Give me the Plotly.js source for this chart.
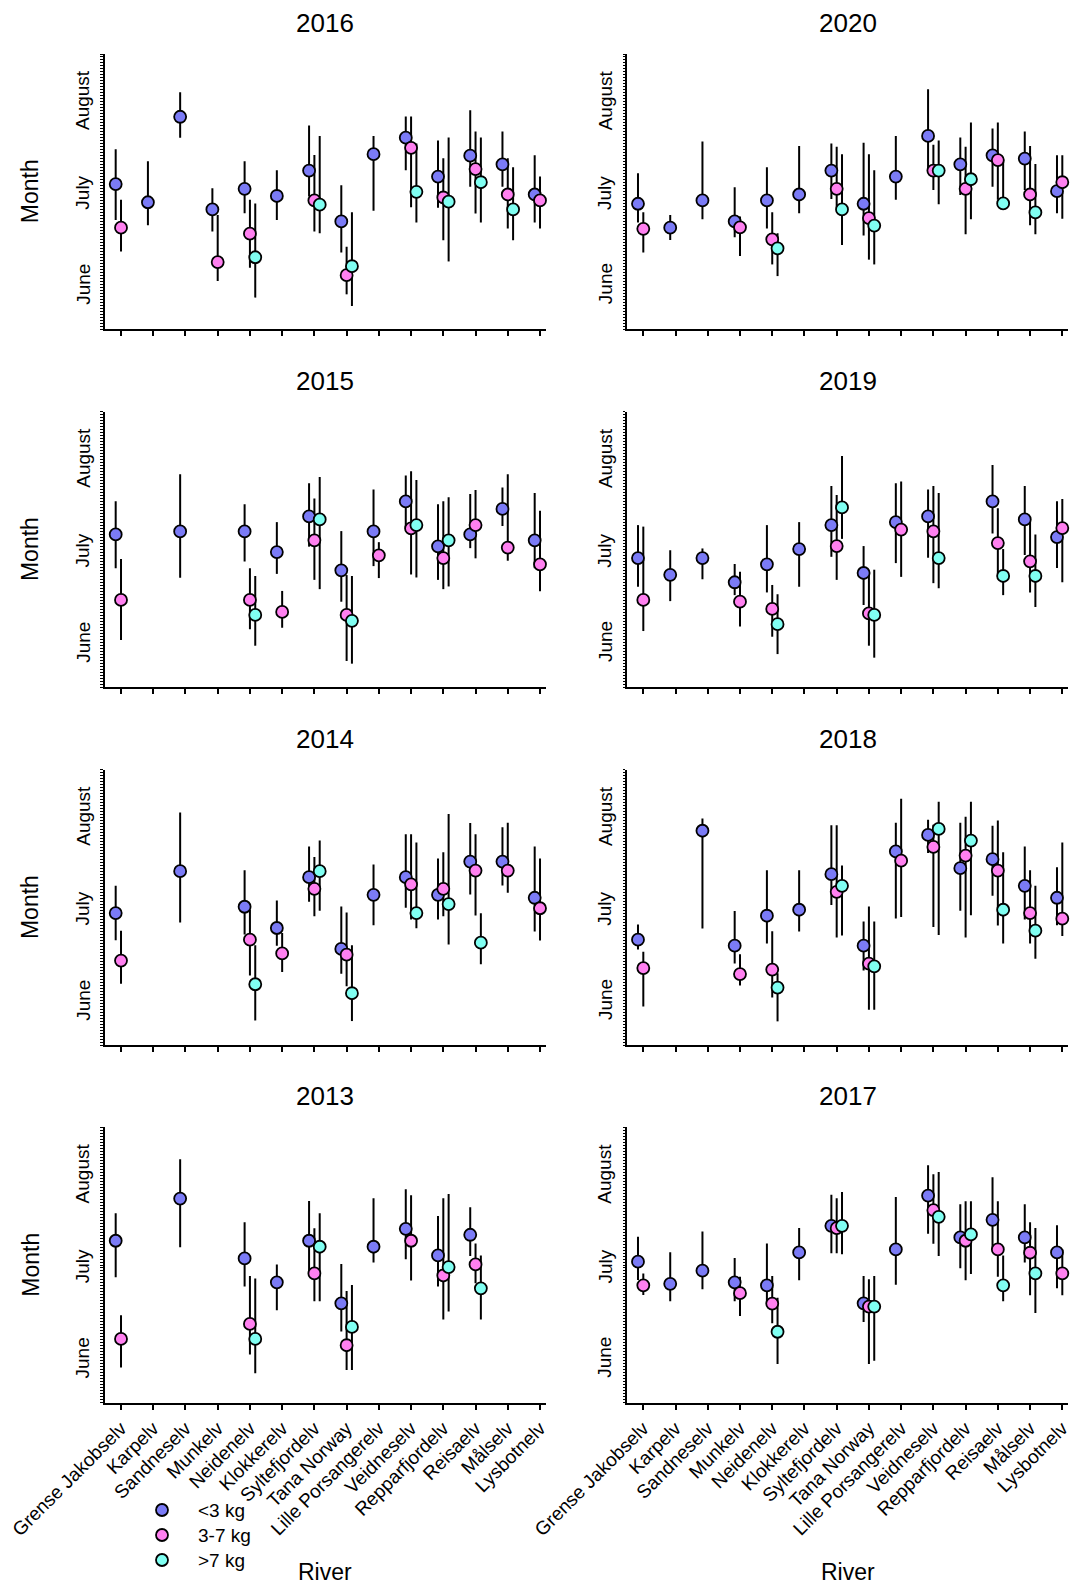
<!DOCTYPE html>
<html><head><meta charset="utf-8">
<script src="https://cdn.plot.ly/plotly-3.0.1.min.js"></script>
<style>html,body{margin:0;padding:0;background:#fff}#chart{width:1073px;height:1584px}</style>
</head><body><div id="chart"></div>
<script>
const N = null;
const rivers = ['Grense Jakobselv','Karpelv','Sandneselv','Munkelv','Neidenelv','Klokkerelv','Syltefjordelv','Tana Norway','Lille Porsangerelv','Veidneselv','Repparfjordelv','Reisaelv','Målselv','Lysbotnelv'];
const groupNames = ['&lt;3 kg','3-7 kg','&gt;7 kg'];
const groupColors = ['#7b7bf6','#ff80f0','#80fff2'];
const monthNames = ['June','July','August'];
const monthMid = [15, 45.5, 76.5];          // days since 1 June
const monthBounds = [0, 30, 61, 92];        // 1 Jun, 1 Jul, 1 Aug, 1 Sep

// values: days since 1 June (mean, lower, upper) per river
// 2016
const mean2016_lt3 = [48.5,42.4,71.0,40.0,46.9,44.5,53.0,36.0,58.5,64.0,51.0,58.0,55.1,45.0];
const lo2016_lt3   = [36.5,34.7,64.0,32.6,38.7,36.5,44.3,25.6,39.6,53.1,40.6,47.6,47.6,35.6];
const hi2016_lt3   = [60.1,56.1,79.2,47.1,56.1,53.1,68.1,48.1,64.6,71.1,63.1,73.2,66.1,58.1];
const mean2016_3to7 = [33.9,N,N,22.4,31.9,N,43.0,18.0,N,60.6,44.0,53.5,45.0,43.0];
const lo2016_3to7   = [25.9,N,N,16.1,20.5,N,32.6,11.6,N,40.7,29.7,38.6,33.6,33.6];
const hi2016_3to7   = [43.2,N,N,38.1,43.2,N,58.2,27.5,N,71.1,57.1,66.1,57.1,51.0];
const mean2016_gt7 = [N,N,N,N,24.0,N,41.6,21.0,N,45.9,42.6,49.1,40.0,N];
const lo2016_gt7   = [N,N,N,N,10.5,N,32.0,7.7,N,35.6,22.6,35.6,29.7,N];
const hi2016_gt7   = [N,N,N,N,42.0,N,64.6,39.1,N,62.1,64.1,64.1,54.1,N];
// 2020
const mean2020_lt3 = [41.9,33.9,43.0,36.0,43.0,45.0,53.0,41.9,51.0,64.6,55.1,58.1,57.0,46.1];
const lo2020_lt3   = [35.6,29.8,36.7,30.7,33.6,38.7,43.5,31.3,43.2,53.0,44.8,47.6,46.5,38.7];
const hi2020_lt3   = [52.1,38.1,62.7,47.4,54.1,61.2,62.1,62.3,64.6,80.2,64.1,67.1,66.1,58.1];
const mean2020_3to7 = [33.5,N,N,34.0,30.0,N,46.9,37.1,N,53.0,46.9,56.5,45.0,49.1];
const lo2020_3to7   = [25.6,N,N,24.4,21.6,N,40.9,23.2,N,46.5,31.7,43.2,34.7,36.9];
const hi2020_3to7   = [39.1,N,N,37.6,39.1,N,61.0,58.5,N,61.6,61.0,69.1,61.2,58.1];
const mean2020_gt7 = [N,N,N,N,27.0,N,40.0,34.6,N,53.0,50.1,42.0,39.0,N];
const lo2020_gt7   = [N,N,N,N,17.7,N,28.1,21.6,N,41.7,36.7,40.0,31.7,N];
const hi2020_gt7   = [N,N,N,N,32.0,N,58.5,53.1,N,63.1,69.1,56.5,55.2,N];
// 2015
const mean2015_lt3 = [51.0,N,52.0,N,52.0,45.1,57.0,39.0,52.0,62.0,47.0,51.0,59.5,49.0];
const lo2015_lt3   = [39.7,N,36.5,N,41.9,37.8,46.9,28.5,40.4,53.0,35.8,46.4,53.8,39.7];
const hi2015_lt3   = [62.1,N,71.1,N,61.1,55.1,68.1,52.1,66.0,70.7,61.1,64.5,66.7,64.8];
const mean2015_3to7 = [29.1,N,N,N,29.1,25.1,49.0,24.1,44.0,53.0,43.1,54.1,46.6,41.0];
const lo2015_3to7   = [15.7,N,N,N,19.3,19.8,35.8,8.7,36.4,37.6,32.7,43.0,42.2,32.0];
const hi2015_3to7   = [42.8,N,N,N,39.7,32.1,63.0,37.4,48.4,72.1,62.1,65.8,71.1,58.9];
const mean2015_gt7 = [N,N,N,N,24.1,N,56.0,22.1,N,54.1,49.0,N,N,N];
const lo2015_gt7   = [N,N,N,N,13.8,N,32.7,7.8,N,36.6,33.6,N,N,N];
const hi2015_gt7   = [N,N,N,N,37.1,N,70.2,37.1,N,69.2,63.4,N,N,N];
// 2019
const mean2019_lt3 = [43.1,37.5,43.1,35.0,41.0,46.1,54.1,38.1,55.1,57.0,N,62.0,56.0,50.1];
const lo2019_lt3   = [33.5,28.7,36.0,30.7,31.6,33.5,43.5,27.4,41.4,43.2,N,51.3,44.1,39.8];
const hi2019_lt3   = [54.1,45.7,46.3,41.1,54.1,55.1,67.2,47.1,68.1,66.0,N,74.2,67.2,62.1];
const mean2019_3to7 = [29.1,N,N,28.5,26.1,N,47.1,24.6,52.6,52.0,N,48.1,42.0,53.1];
const lo2019_3to7   = [18.7,N,N,20.2,16.8,N,35.8,13.8,36.8,34.7,N,36.9,31.6,35.0];
const hi2019_3to7   = [53.6,N,N,38.5,34.1,N,64.2,38.5,68.7,67.2,N,59.7,55.2,62.8];
const mean2019_gt7 = [N,N,N,N,21.0,N,60.0,24.1,N,43.1,N,37.1,37.1,N];
const lo2019_gt7   = [N,N,N,N,11.0,N,49.5,9.8,N,33.0,N,30.7,26.7,N];
const hi2019_gt7   = [N,N,N,N,31.0,N,77.2,39.2,N,64.8,N,46.1,51.0,N];
// 2014
const mean2014_lt3 = [44.1,N,58.1,N,46.2,39.1,56.1,32.1,50.2,56.1,50.2,61.3,61.3,49.2];
const lo2014_lt3   = [35.0,N,40.9,N,36.9,33.2,47.9,23.8,40.0,45.9,41.9,50.3,53.3,37.9];
const hi2014_lt3   = [53.2,N,77.7,N,58.4,48.3,66.3,46.3,60.3,70.4,62.3,74.2,72.8,66.3];
const mean2014_3to7 = [28.2,N,N,N,35.2,30.6,52.2,30.2,N,53.7,52.2,58.3,58.3,45.7];
const lo2014_3to7   = [20.5,N,N,N,23.2,24.4,43.0,19.6,N,41.9,43.0,43.3,50.9,34.9];
const hi2014_3to7   = [38.2,N,N,N,45.2,37.4,62.8,44.3,N,70.4,64.4,70.4,74.3,62.3];
const mean2014_gt7 = [N,N,N,N,20.3,N,58.1,17.3,N,44.1,47.1,34.2,N,N];
const lo2014_gt7   = [N,N,N,N,8.2,N,44.9,8.0,N,39.0,33.6,27.0,N,N];
const hi2014_gt7   = [N,N,N,N,33.3,N,68.3,33.3,N,67.7,77.2,44.0,N,N];
// 2018
const mean2018_lt3 = [35.2,N,71.6,33.2,43.2,45.2,57.1,33.2,64.7,70.2,59.1,62.1,53.2,49.2];
const lo2018_lt3   = [31.9,N,38.9,27.2,33.9,37.9,46.8,24.9,42.3,64.2,44.9,49.9,41.9,40.0];
const hi2018_lt3   = [40.3,N,75.7,44.8,58.4,58.4,73.4,41.3,74.3,75.3,74.3,73.3,66.3,59.4];
const mean2018_3to7 = [25.7,N,N,23.7,25.2,N,51.2,27.2,61.6,66.2,63.3,58.3,44.1,42.2];
const lo2018_3to7   = [12.9,N,N,19.9,15.9,N,35.9,11.8,42.8,39.4,35.9,39.9,33.9,36.4];
const hi2018_3to7   = [31.2,N,N,30.3,38.0,N,73.4,46.3,82.3,73.6,76.3,75.0,58.4,67.7];
const mean2018_gt7 = [N,N,N,N,19.2,N,53.2,26.3,N,72.2,68.3,45.2,38.2,N];
const lo2018_gt7   = [N,N,N,N,7.9,N,36.6,11.8,N,36.8,43.4,33.9,28.8,N];
const hi2018_gt7   = [N,N,N,N,24.0,N,60.0,41.3,N,81.3,81.3,64.4,53.2,N];
// 2013
const mean2013_lt3 = [54.1,N,68.2,N,48.2,40.2,54.1,33.2,52.1,58.1,49.2,56.1,N,N];
const lo2013_lt3   = [41.9,N,51.9,N,38.8,30.9,43.2,23.8,46.8,47.9,38.8,49.0,N,N];
const hi2013_lt3   = [63.3,N,81.3,N,60.3,46.2,67.4,46.3,68.3,71.3,62.4,65.3,N,N];
const mean2013_3to7 = [21.3,N,N,N,26.3,N,43.2,19.2,N,54.1,42.5,46.2,N,N];
const lo2013_3to7   = [11.8,N,N,N,16.1,N,33.9,10.9,N,40.8,27.8,39.9,N,N];
const hi2013_3to7   = [29.2,N,N,N,42.3,N,58.3,37.3,N,69.3,68.3,53.2,N,N];
const mean2013_gt7 = [N,N,N,N,21.3,N,52.1,25.3,N,N,45.3,38.2,N,N];
const lo2013_gt7   = [N,N,N,N,9.8,N,33.9,10.9,N,N,30.5,27.8,N,N];
const hi2013_gt7   = [N,N,N,N,41.5,N,63.3,39.3,N,N,69.7,49.2,N,N];
// 2017
const mean2017_lt3 = [47.1,39.7,44.1,40.2,39.2,50.2,59.1,33.2,51.2,69.2,55.2,61.1,55.2,50.2];
const lo2017_lt3   = [41.0,33.9,37.9,33.9,33.2,40.9,49.9,27.0,39.4,56.4,44.9,52.1,46.8,38.2];
const hi2017_lt3   = [55.4,50.3,57.2,48.3,53.2,58.4,69.5,42.3,68.7,79.3,66.3,75.3,66.3,59.3];
const mean2017_3to7 = [39.2,N,N,36.6,33.1,N,58.3,32.1,N,64.3,54.1,51.2,50.1,43.2];
const lo2017_3to7   = [36.0,N,N,29.0,26.5,N,49.9,12.9,N,53.1,40.9,42.1,35.9,35.9];
const hi2017_3to7   = [43.2,N,N,42.1,42.3,N,68.3,41.2,N,76.3,67.3,67.3,60.3,51.2];
const mean2017_gt7 = [N,N,N,N,23.7,N,59.1,32.1,N,62.1,56.2,39.2,43.2,N];
const lo2017_gt7   = [N,N,N,N,12.9,N,49.6,14.0,N,49.0,43.0,33.9,30.0,N];
const hi2017_gt7   = [N,N,N,N,35.1,N,70.4,42.3,N,77.1,67.3,49.2,58.4,N];

const panels = [
  {year:'2016', g:[[mean2016_lt3,lo2016_lt3,hi2016_lt3],[mean2016_3to7,lo2016_3to7,hi2016_3to7],[mean2016_gt7,lo2016_gt7,hi2016_gt7]]},
  {year:'2020', g:[[mean2020_lt3,lo2020_lt3,hi2020_lt3],[mean2020_3to7,lo2020_3to7,hi2020_3to7],[mean2020_gt7,lo2020_gt7,hi2020_gt7]]},
  {year:'2015', g:[[mean2015_lt3,lo2015_lt3,hi2015_lt3],[mean2015_3to7,lo2015_3to7,hi2015_3to7],[mean2015_gt7,lo2015_gt7,hi2015_gt7]]},
  {year:'2019', g:[[mean2019_lt3,lo2019_lt3,hi2019_lt3],[mean2019_3to7,lo2019_3to7,hi2019_3to7],[mean2019_gt7,lo2019_gt7,hi2019_gt7]]},
  {year:'2014', g:[[mean2014_lt3,lo2014_lt3,hi2014_lt3],[mean2014_3to7,lo2014_3to7,hi2014_3to7],[mean2014_gt7,lo2014_gt7,hi2014_gt7]]},
  {year:'2018', g:[[mean2018_lt3,lo2018_lt3,hi2018_lt3],[mean2018_3to7,lo2018_3to7,hi2018_3to7],[mean2018_gt7,lo2018_gt7,hi2018_gt7]]},
  {year:'2013', g:[[mean2013_lt3,lo2013_lt3,hi2013_lt3],[mean2013_3to7,lo2013_3to7,hi2013_3to7],[mean2013_gt7,lo2013_gt7,hi2013_gt7]]},
  {year:'2017', g:[[mean2017_lt3,lo2017_lt3,hi2017_lt3],[mean2017_3to7,lo2017_3to7,hi2017_3to7],[mean2017_gt7,lo2017_gt7,hi2017_gt7]]}
];

const W = 1073, H = 1584;
const FONT = 'Arial, "Liberation Sans", sans-serif';
const dodge = [-0.165, 0, 0.165];
const colPx = [[104.7, 546.0], [627.0, 1068.3]];
const rowPx = [[54, 329], [411.7, 687], [769.7, 1045], [1127.3, 1402.7]];
const MSIZE = 12, MLINE = 1.8;

const traces = [];
const layout = {
  width: W, height: H,
  margin: {l:0, r:0, t:0, b:0},
  paper_bgcolor: '#fff', plot_bgcolor: '#fff',
  font: {family: FONT, color: '#000', size: 19},
  showlegend: false,
  annotations: [],
  shapes: []
};

panels.forEach((p, k) => {
  const col = k % 2, row = Math.floor(k / 2);
  const sfx = k === 0 ? '' : String(k + 1);
  const xa = 'x' + sfx, ya = 'y' + sfx;
  const xd = [colPx[col][0] / W, colPx[col][1] / W];
  const yd = [1 - rowPx[row][1] / H, 1 - rowPx[row][0] / H];

  layout['xaxis' + sfx] = {
    domain: xd, anchor: ya, range: [-0.506, 13.186],
    tickmode: 'array', tickvals: rivers.map((_, i) => i), ticktext: rivers,
    showticklabels: row === 3, tickangle: -45,
    tickfont: {family: FONT, size: 19, color: '#000'},
    ticks: 'outside', ticklen: 5, tickwidth: 2, tickcolor: '#000',
    showline: true, linewidth: 2, linecolor: '#000',
    showgrid: false, zeroline: false, fixedrange: true
  };
  layout['yaxis' + sfx] = {
    domain: yd, anchor: xa, range: [0, 92],
    tickmode: 'array', tickvals: monthBounds, ticktext: monthBounds.map(() => ''),
    showticklabels: false,
    ticks: 'outside', ticklen: 5, tickwidth: 2, tickcolor: '#000',
    minor: {ticks: 'outside', tickmode: 'linear', tick0: 0, dtick: 1, ticklen: 2.5, tickwidth: 1, tickcolor: '#000', showgrid: false},
    showline: true, linewidth: 2, linecolor: '#000',
    showgrid: false, zeroline: false, fixedrange: true
  };

  // error bars first (behind all symbols)
  const ex = [], ey = [];
  p.g.forEach((arr, gi) => {
    const [m, lo, hi] = arr;
    m.forEach((v, i) => {
      if (v === null) return;
      ex.push(i + dodge[gi], i + dodge[gi], null);
      ey.push(lo[i], hi[i], null);
    });
  });
  traces.push({type: 'scatter', mode: 'lines', x: ex, y: ey, xaxis: xa, yaxis: ya,
    line: {color: '#000', width: 2}, showlegend: false, hoverinfo: 'skip', connectgaps: false});

  p.g.forEach((arr, gi) => {
    const m = arr[0];
    traces.push({type: 'scatter', mode: 'markers',
      x: rivers.map((_, i) => i + dodge[gi]), y: m,
      xaxis: xa, yaxis: ya, name: groupNames[gi],
      marker: {size: MSIZE, color: groupColors[gi], line: {color: '#000', width: MLINE}},
      showlegend: false, cliponaxis: false});
  });

  // panel title
  layout.annotations.push({xref: 'paper', yref: 'paper', x: (xd[0] + xd[1]) / 2, y: yd[1],
    yshift: 31, xanchor: 'center', yanchor: 'middle', showarrow: false,
    text: p.year, font: {family: FONT, size: 26, color: '#000'}});
  // month labels
  monthNames.forEach((mn, mi) => {
    layout.annotations.push({xref: 'paper', yref: ya, x: xd[0], y: monthMid[mi],
      xshift: -22, xanchor: 'center', yanchor: 'middle', textangle: -90, showarrow: false,
      text: mn, font: {family: FONT, size: 19, color: '#000'}});
  });
  if (col === 0) {
    layout.annotations.push({xref: 'paper', yref: ya, x: xd[0], y: 46,
      xshift: -74, xanchor: 'center', yanchor: 'middle', textangle: -90, showarrow: false,
      text: 'Month', font: {family: FONT, size: 23, color: '#000'}});
  }
  if (row === 3) {
    layout.annotations.push({xref: 'paper', yref: 'paper', x: (xd[0] + xd[1]) / 2, y: 0,
      yshift: -3, xanchor: 'center', yanchor: 'bottom', showarrow: false,
      text: 'River', font: {family: FONT, size: 23, color: '#000'}});
  }
});

// key (legend) for the three size groups
const keyY = [1510, 1535, 1560];
groupNames.forEach((gname, gi) => {
  layout.shapes.push({type: 'circle', xref: 'paper', yref: 'paper',
    xsizemode: 'pixel', ysizemode: 'pixel', xanchor: 162 / W, yanchor: 1 - keyY[gi] / H,
    x0: -MSIZE / 2, x1: MSIZE / 2, y0: -MSIZE / 2, y1: MSIZE / 2,
    fillcolor: groupColors[gi], line: {color: '#000', width: MLINE}});
  layout.annotations.push({xref: 'paper', yref: 'paper', x: 196 / W, y: 1 - keyY[gi] / H,
    xanchor: 'left', yanchor: 'middle', showarrow: false, text: gname,
    font: {family: FONT, size: 19, color: '#000'}});
});

Plotly.newPlot('chart', traces, layout, {staticPlot: true, displayModeBar: false});
</script>
</body></html>
